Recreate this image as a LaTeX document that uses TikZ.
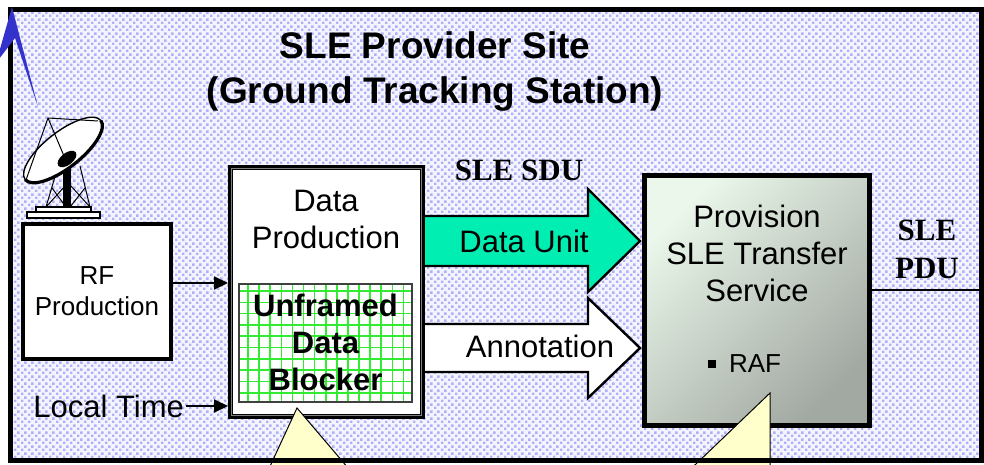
\documentclass[tikz,border=0pt]{standalone}
\usepackage{fontspec}
\setmainfont{Liberation Sans}
\newfontfamily\timesfont{Liberation Serif}
\usetikzlibrary{calc,positioning,arrows.meta,patterns}
\definecolor{sitebg}{RGB}{244,244,255}
\definecolor{sitedot}{RGB}{176,176,248}
\definecolor{unitfill}{RGB}{0,238,178}
\definecolor{gridgreen}{RGB}{50,235,50}
\definecolor{notefill}{RGB}{255,255,204}
\definecolor{pointblue}{RGB}{51,51,204}
\definecolor{provtop}{RGB}{234,247,234}
\definecolor{provbot}{RGB}{162,168,162}
\pgfdeclarepatternformonly{sitedots}{\pgfqpoint{0pt}{0pt}}{\pgfqpoint{3.5pt}{3.5pt}}{\pgfqpoint{3.5pt}{3.5pt}}{%
 \pgfpathrectangle{\pgfqpoint{0pt}{0pt}}{\pgfqpoint{1.4pt}{1.4pt}}%
 \pgfpathrectangle{\pgfqpoint{1.75pt}{1.75pt}}{\pgfqpoint{1.4pt}{1.4pt}}%
 \pgfusepath{fill}}

\begin{document}
\begin{tikzpicture}[x=0.5pt,y=-0.5pt,
 box/.style={draw,line width=2.5pt,fill=white,inner sep=0pt},
 txt/.style={align=center,font=\fontsize{15.5}{18.5}\selectfont},
 arr/.style={line width=1pt,-{Triangle[length=7pt,width=6.5pt]}},
 blockarrow/.style={draw,line width=1.2pt,line join=miter},
 note/.style={draw=black,line width=0.5pt,fill=notefill}]
\clip (0,0) rectangle (984,465);
\node[pattern=sitedots,pattern color=sitedot,preaction={fill=sitebg},minimum width=485.5pt,minimum height=225pt,inner sep=0pt,outer sep=0pt] (site) at (495.5,235) {};
\node[font=\fontsize{18.5}{22.5}\selectfont\bfseries,align=center] (title) at (435,72) {SLE Provider Site\\(Ground Tracking Station)};
%antenna
\draw[fill=white,line width=0.6pt] (27,212) rectangle (100,218);
\draw[fill=white,line width=0.6pt] (36,207) rectangle (91,212);
\draw[line width=0.5pt] (46,207)--(57,170) (90,207)--(80,166) (46,207)--(66,185) (66,207)--(52,188) (90,207)--(70,185) (70,207)--(85,188);
\fill (63,160) rectangle (71,208);
\draw[fill=white,line width=0.7pt,rotate around={38:(63,150)}] (63,150) ellipse (24pt and 9pt);
\draw[line width=1.6pt,rotate around={38:(63,150)}] (63,150) ++(24pt,0pt) arc (0:-180:24pt and 9pt);
\fill[rotate around={38:(67,159)}] (67,159) ellipse (5.5pt and 3pt);
\draw[line width=0.5pt] (26,180)--(48,118)--(98,121) (48,118)--(64,156);
%boxes
\node[box,line width=2pt,minimum width=74pt,minimum height=67.5pt,font=\fontsize{13}{15.5}\selectfont,align=center] (rf) at (97,291.5) {RF\\Production};
\draw[blockarrow,fill=unitfill] (415,216)--(588,216)--(588,189)--(640,241)--(588,292)--(588,266)--(415,266)--cycle;
\draw[blockarrow,fill=white] (415,324)--(588,324)--(588,298)--(640,348)--(588,398)--(588,372)--(415,372)--cycle;
\node[box,minimum width=96pt,minimum height=124.5pt] (dp) at (326.5,292) {};
\draw[gray,line width=0.6pt] ([shift={(1.6pt,-1.6pt)}]dp.north west) rectangle ([shift={(-1.6pt,1.6pt)}]dp.south east);
\node[txt] (dptxt) at (326,219.5) {Data\\Production};
\node[draw=darkgray,line width=1pt,fill=white,minimum width=86.5pt,minimum height=59pt,inner sep=0pt] (blk) at (325.5,343) {};
\foreach \gx in {248,259.1,...,412} \draw[gridgreen,line width=0.8pt] (\gx,285)--(\gx,401);
\foreach \gy in {291,302.3,...,401} \draw[gridgreen,line width=0.8pt] (240,\gy)--(411,\gy);
\node[txt,font=\fontsize{15.5}{18.5}\selectfont\bfseries] (blktxt) at (325.5,342.5) {Unframed\\Data\\Blocker};
\node[font=\fontsize{15.5}{18.5}\selectfont,anchor=west,inner sep=1pt] (lt) at (31,406) {Local Time};
\draw[arr] (lt.east) -- (lt.east -| dp.west);
\coordinate (rfout) at ([yshift=4.25pt]rf.east);
\draw[arr] (rfout) -- (rfout -| dp.west);
\node[txt] (unit) at (524,241) {Data Unit};
\node[txt] (anno) at (540,346) {Annotation};
\node[draw,line width=2.5pt,top color=provtop,bottom color=provbot,shading angle=45,minimum width=112.75pt,minimum height=125pt,inner sep=0pt] (prov) at (756.75,300.5) {};
\node[txt] (provtxt) at (757,253.5) {Provision\\SLE Transfer\\Service};
\node[font=\fontsize{13}{15.5}\selectfont] (raf) at (744.5,364) {\raisebox{2.5pt}{\rule{4pt}{4pt}}\hspace{6.5pt}RAF};
\node[font=\timesfont\bfseries\fontsize{15.5}{18.5}\selectfont] (sdu) at (519,170.5) {SLE SDU};
\node[font=\timesfont\bfseries\fontsize{15.5}{19}\selectfont,align=center] (pdu) at (927,249) {SLE\\PDU};
\coordinate (pduout) at ([yshift=5.25pt]prov.east);
\draw[line width=1pt] (pduout) -- (pduout -| site.east);
%callouts
\draw[note] (297,408)--(349.8,470)--(268.3,470)--cycle;
\draw[note] (770,393)--(770,470)--(689.7,470)--cycle;
\draw[line width=2.5pt] (site.north west) rectangle (site.south east);
\fill[pointblue] (-4,63)--(12,7)--(38,107)--(15,38)--cycle;
\end{tikzpicture}
\end{document}
